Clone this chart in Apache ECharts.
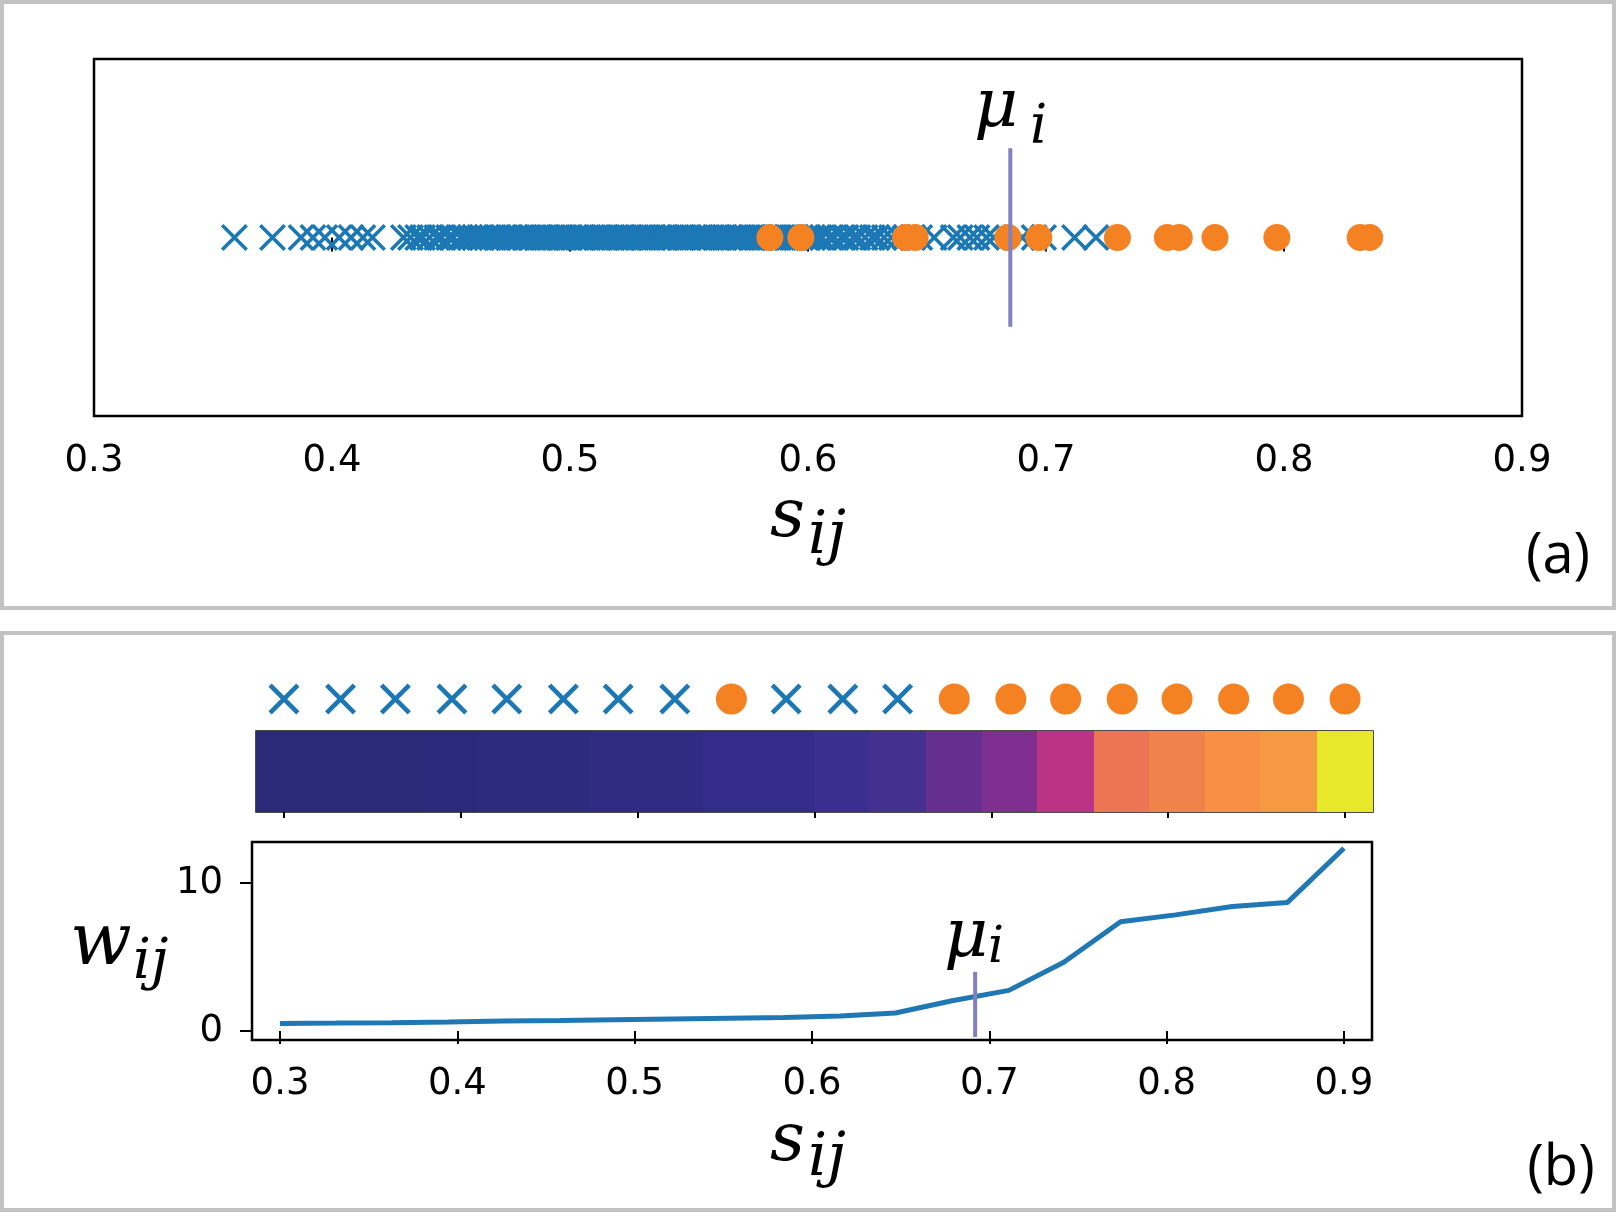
<!DOCTYPE html>
<html>
<head>
<meta charset="utf-8">
<script src="https://cdn.jsdelivr.net/npm/echarts@6/dist/echarts.min.js"></script>
<style>
  html, body { margin: 0; padding: 0; background: #fff; }
  #chart { width: 1616px; height: 1213px; }
</style>
</head>
<body>
<div id="chart"></div>
<script>
// panel (a): s_ij of every pair, crosses = not linked, dots = linked
var blueS = [
  0.359, 0.375, 0.387, 0.392, 0.397, 0.403, 0.408, 0.413, 0.417,
  0.430, 0.433, 0.436, 0.438, 0.441, 0.444, 0.446, 0.449, 0.451, 0.454, 0.456, 0.458,
  0.460, 0.462, 0.463, 0.465, 0.467, 0.469, 0.470, 0.472, 0.474, 0.475, 0.477, 0.479,
  0.481, 0.482, 0.484, 0.486, 0.487, 0.489, 0.490, 0.492, 0.494, 0.496, 0.497, 0.499,
  0.500, 0.502, 0.504, 0.505, 0.507, 0.509, 0.511, 0.512, 0.514, 0.515, 0.517, 0.519,
  0.521, 0.522, 0.524, 0.525, 0.527, 0.529, 0.531, 0.532, 0.534, 0.535, 0.537, 0.539,
  0.540, 0.542, 0.544, 0.546, 0.547, 0.549, 0.550, 0.552, 0.554, 0.556, 0.557, 0.559,
  0.561, 0.562, 0.564, 0.565, 0.567, 0.569, 0.571, 0.572, 0.574, 0.576, 0.577, 0.579,
  0.580, 0.582, 0.584, 0.586, 0.587, 0.589, 0.591, 0.592, 0.594, 0.595, 0.597, 0.599,
  0.600, 0.602, 0.604,
  0.606, 0.609, 0.611, 0.614, 0.616, 0.619, 0.621, 0.624, 0.627, 0.629, 0.632, 0.635,
  0.638, 0.641, 0.644, 0.647,
  0.653, 0.661, 0.664, 0.668, 0.671, 0.675, 0.678, 0.690, 0.695, 0.699, 0.712, 0.721
];
var orangeS = [0.584, 0.597, 0.641, 0.645, 0.684, 0.697, 0.730, 0.751, 0.756, 0.771, 0.797, 0.832, 0.836];
var muA = 0.685;
var tickLabels = [0.3, 0.4, 0.5, 0.6, 0.7, 0.8, 0.9];

// panel (b): 20 bins of s_ij, their kind and weight w_ij
var cellS = [0.300, 0.332, 0.363, 0.395, 0.426, 0.458, 0.489, 0.521, 0.553, 0.584,
             0.616, 0.647, 0.679, 0.711, 0.742, 0.774, 0.805, 0.837, 0.868, 0.900];
var cellKind = ['x', 'x', 'x', 'x', 'x', 'x', 'x', 'x', 'o', 'x',
                'x', 'x', 'o', 'o', 'o', 'o', 'o', 'o', 'o', 'o'];
var cellW = [0.52, 0.54, 0.57, 0.62, 0.68, 0.71, 0.77, 0.82, 0.87, 0.92,
             1.02, 1.22, 2.05, 2.75, 4.65, 7.38, 7.85, 8.42, 8.68, 12.35];
var muB = 0.692;
var wTicks = [0, 10];

var BLUE = '#1c78b4', ORANGE = '#f58222', MU = '#8181c1';
var crossA = 'path://M0,9.5L9.5,0L100,90.5L90.5,100Z M90.5,0L100,9.5L9.5,100L0,90.5Z';
var crossB = 'path://M0,10.5L10.5,0L100,89.5L89.5,100Z M89.5,0L100,10.5L10.5,100L0,89.5Z';
var sMin = 0.2842, sMax = 0.9158;
var half = (cellS[cellS.length - 1] - cellS[0]) / (cellS.length - 1) / 2;

var chart = echarts.init(document.getElementById('chart'));

var tickFont = { color: '#000', fontSize: 37, fontFamily: 'DejaVu Sans' };
// math-style italic labels
var math = function (t, x, y, size) {
  return { type: 'text', z: 10, style: { text: t, x: x, y: y, fill: '#000',
    font: 'italic ' + size + 'px "DejaVu Serif", serif',
    align: 'left', verticalAlign: 'middle' } };
};
var fmt = function (v) { return v.toFixed(1); };

var bCross = [], bDot = [];
cellS.forEach(function (s, i) {
  (cellKind[i] === 'x' ? bCross : bDot).push([s, 0]);
});

var option = {
  backgroundColor: '#fff',
  animation: false,
  grid: [
    { left: 94, right: 94, top: 59, height: 357, show: true, borderColor: '#000', borderWidth: 2.5 },
    { left: 256, right: 243, top: 684, height: 30 },
    { left: 256, right: 243, top: 731, height: 81, show: true, borderColor: '#111', borderWidth: 1.5 },
    { left: 252, right: 244, top: 842, height: 198, show: true, borderColor: '#000', borderWidth: 2.5 }
  ],
  xAxis: [
    { gridIndex: 0, type: 'value', min: 0.3, max: 0.9, interval: 0.1,
      axisLine: { show: false }, splitLine: { show: false },
      axisTick: { length: 14, lineStyle: { color: '#000', width: 2 } },
      axisLabel: Object.assign({ margin: 27, formatter: fmt }, tickFont) },
    { gridIndex: 1, type: 'value', min: sMin, max: sMax, show: false },
    { gridIndex: 2, type: 'value', min: sMin, max: sMax,
      axisLine: { show: false }, splitLine: { show: false },
      axisTick: { length: 6, customValues: tickLabels, lineStyle: { color: '#000', width: 2 } },
      axisLabel: { show: false } },
    { gridIndex: 3, type: 'value', min: sMin, max: sMax,
      axisLine: { show: false }, splitLine: { show: false },
      axisTick: { length: 13, customValues: tickLabels, lineStyle: { color: '#000', width: 2 } },
      axisLabel: Object.assign({ margin: 26, customValues: tickLabels, formatter: fmt }, tickFont) }
  ],
  yAxis: [
    { gridIndex: 0, type: 'value', min: -1, max: 1, show: false },
    { gridIndex: 1, type: 'value', min: -1, max: 1, show: false },
    { gridIndex: 2, type: 'value', min: 0, max: 1, show: false },
    { gridIndex: 3, type: 'value', min: -0.6, max: 12.77,
      axisLine: { show: false }, splitLine: { show: false },
      axisTick: { length: 12, customValues: wTicks, lineStyle: { color: '#000', width: 2 } },
      axisLabel: Object.assign({ margin: 29, customValues: wTicks }, tickFont) }
  ],
  visualMap: {
    type: 'piecewise', show: false, seriesIndex: 5, dimension: 1,
    pieces: [
      { lt: 0.58, color: '#2a2a78' },
      { gte: 0.58, lt: 0.66, color: '#2b2a7a' },
      { gte: 0.66, lt: 0.74, color: '#2d2b7e' },
      { gte: 0.74, lt: 0.85, color: '#302c84' },
      { gte: 0.85, lt: 0.97, color: '#332d89' },
      { gte: 0.97, lt: 1.1, color: '#3a2f8f' },
      { gte: 1.1, lt: 1.6, color: '#44308f' },
      { gte: 1.6, lt: 2.4, color: '#652f90' },
      { gte: 2.4, lt: 3.5, color: '#7e2f8f' },
      { gte: 3.5, lt: 6, color: '#bb3385' },
      { gte: 6, lt: 7.6, color: '#ed7554' },
      { gte: 7.6, lt: 8.1, color: '#f0824c' },
      { gte: 8.1, lt: 8.55, color: '#f78f44' },
      { gte: 8.55, lt: 10, color: '#f59a42' },
      { gte: 10, color: '#e8e82b' }
    ]
  },
  series: [
    { type: 'scatter', xAxisIndex: 0, yAxisIndex: 0, symbol: crossA, symbolSize: 27,
      itemStyle: { color: BLUE, opacity: 1 }, data: blueS.map(function (v) { return [v, 0]; }), z: 2 },
    { type: 'scatter', xAxisIndex: 0, yAxisIndex: 0, symbol: 'circle', symbolSize: 27,
      itemStyle: { color: ORANGE, opacity: 1 }, data: orangeS.map(function (v) { return [v, 0]; }), z: 3 },
    { type: 'line', xAxisIndex: 0, yAxisIndex: 0, symbol: 'none', z: 4,
      lineStyle: { color: MU, width: 4 }, data: [[muA, -0.5], [muA, 0.5]] },
    { type: 'scatter', xAxisIndex: 1, yAxisIndex: 1, symbol: crossB, symbolSize: 31,
      itemStyle: { color: BLUE, opacity: 1 }, data: bCross },
    { type: 'scatter', xAxisIndex: 1, yAxisIndex: 1, symbol: 'circle', symbolSize: 31,
      itemStyle: { color: ORANGE, opacity: 1 }, data: bDot },
    { type: 'custom', xAxisIndex: 2, yAxisIndex: 2, z: 1,
      data: cellS.map(function (s, i) { return [s, cellW[i]]; }),
      renderItem: function (params, api) {
        var s = api.value(0);
        var p0 = api.coord([s - half, 1]);
        var p1 = api.coord([s + half, 0]);
        return { type: 'rect',
          shape: { x: Math.floor(p0[0]), y: p0[1], width: Math.ceil(p1[0]) - Math.floor(p0[0]), height: p1[1] - p0[1] },
          style: { fill: api.visual('color'), stroke: null } };
      } },
    { type: 'line', xAxisIndex: 3, yAxisIndex: 3, symbol: 'none', z: 2,
      lineStyle: { color: '#1f77b4', width: 5 },
      data: cellS.map(function (s, i) { return [s, cellW[i]]; }) },
    { type: 'line', xAxisIndex: 3, yAxisIndex: 3, symbol: 'none', z: 3,
      lineStyle: { color: MU, width: 4 }, data: [[muB, -0.4], [muB, 4.0]] }
  ],
  graphic: [
    { type: 'rect', shape: { x: 2, y: 2, width: 1612, height: 606 },
      style: { fill: 'none', stroke: '#c3c3c3', lineWidth: 4 } },
    { type: 'rect', shape: { x: 2, y: 633, width: 1612, height: 577 },
      style: { fill: 'none', stroke: '#c3c3c3', lineWidth: 4 } },
    math('\u03bc', 974, 108, 68),
    math('i', 1030, 129, 54),
    math('s', 770, 518, 68),
    math('ij', 808, 537, 60),
    math('s', 770, 1142, 68),
    math('ij', 808, 1159, 60),
    math('\u03bc', 944, 938, 68),
    math('i', 988, 949, 50),
    math('w', 70, 945, 72),
    math('ij', 133, 963, 56),
    { type: 'text', style: { text: '(a)', x: 1558, y: 557, fill: '#000',
      fontFamily: 'Open Sans', fontSize: 56, align: 'center', verticalAlign: 'middle' } },
    { type: 'text', style: { text: '(b)', x: 1561, y: 1169, fill: '#000',
      fontFamily: 'Open Sans', fontSize: 56, align: 'center', verticalAlign: 'middle' } }
  ]
};

chart.setOption(option);
window.addEventListener('resize', function () { chart.resize(); });
</script>
</body>
</html>
